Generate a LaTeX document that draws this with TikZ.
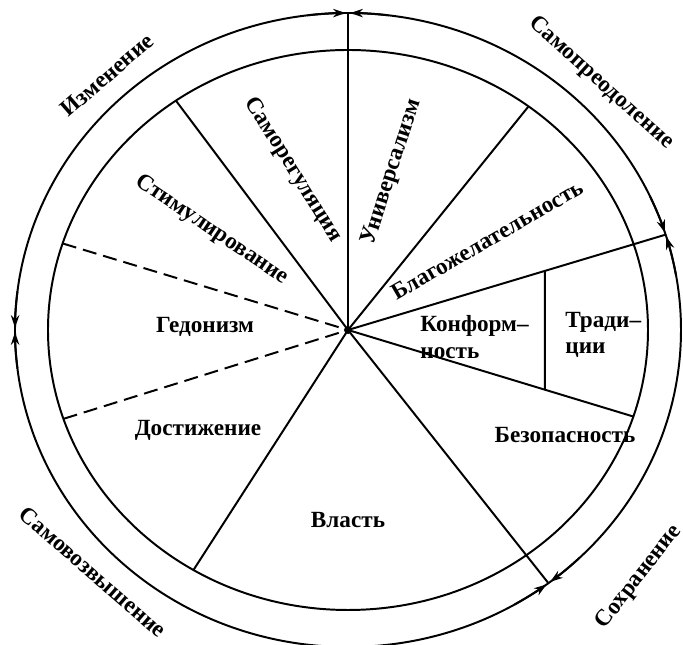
\documentclass[tikz,border=0pt]{standalone}
\usepackage{fontspec}
\setmainfont{Liberation Serif}
\usetikzlibrary{arrows.meta,calc}
\tikzset{
  lbl/.style={font=\fontsize{16.5}{19}\selectfont\bfseries,inner sep=1pt},
  twoline/.style={lbl,align=left,anchor=west},
  tipto/.style={-{Stealth[length=9pt,width=6pt]}},
  border/.style={dash pattern=on 10pt off 5pt}
}
\begin{document}
\begin{tikzpicture}[scale=0.025,line width=1.4pt]
\useasboundingbox (-348,-315) rectangle (335,330);
\coordinate (c) at (0,0);
\draw (c) ellipse [x radius=300,y radius=280];
\draw (c) ellipse [x radius=333,y radius=317];
% rays to the inner ring
\coordinate (r53) at (53:300 and 280);
\coordinate (r125) at (125:300 and 280);
\coordinate (r162) at (162:300 and 280);
\coordinate (r198) at (198.5:300 and 280);
\coordinate (r239) at (239:300 and 280);
\coordinate (r342) at (342:300 and 280);
% rays to the outer ring
\coordinate (o90) at (90:333 and 317);
\coordinate (o17) at (17.5:333 and 317);
\coordinate (o307) at (307:333 and 317);
\coordinate (o180) at (180:333 and 317);
\draw (c) -- (o90);
\draw (c) -- (o17);
\draw (c) -- (o307);
\draw (c) -- (r53);
\draw (c) -- (r125);
\draw (c) -- (r239);
\draw (c) -- (r342);
\draw[border] (r162) -- (c);
\draw[border] (r198) -- (c);
\coordinate (dt) at (intersection of c--o17 and 197,0--197,1);
\coordinate (db) at (intersection of c--r342 and 197,0--197,1);
\draw (dt) -- (db);
\fill (c) circle (4);
% arrows on the outer ring
\draw[tipto] (97:333 and 317) arc[start angle=97,end angle=90.4,x radius=333,y radius=317];
\draw[tipto] (83:333 and 317) arc[start angle=83,end angle=89.6,x radius=333,y radius=317];
\draw[tipto] (25:333 and 317) arc[start angle=25,end angle=17.9,x radius=333,y radius=317];
\draw[tipto] (10:333 and 317) arc[start angle=10,end angle=17.1,x radius=333,y radius=317];
\draw[tipto] (300:333 and 317) arc[start angle=300,end angle=306.6,x radius=333,y radius=317];
\draw[tipto] (314:333 and 317) arc[start angle=314,end angle=307.4,x radius=333,y radius=317];
\draw[tipto] (187:333 and 317) arc[start angle=187,end angle=180.4,x radius=333,y radius=317];
\draw[tipto] (173:333 and 317) arc[start angle=173,end angle=179.6,x radius=333,y radius=317];
% outer labels
\node[lbl,rotate=41] (izm) at (-241,255) {Изменение};
\node[lbl,rotate=-42] (sampr) at (253,247) {Самопреодоление};
\node[lbl,rotate=52] (sohr) at (291,-247) {Сохранение};
\node[lbl,rotate=-41] (samv) at (-255,-242) {Самовозвышение};
% sector labels
\node[lbl,rotate=-58] (samreg) at (-55,160) {Саморегуляция};
\node[lbl,rotate=72] (univ) at (44,158) {Универсализм};
\node[lbl,rotate=-34] (stim) at (-136,100) {Стимулирование};
\node[lbl] (gedon) at (-143,3) {Гедонизм};
\node[lbl] (dost) at (-150,-100) {Достижение};
\node[lbl] (vlast) at (0,-190) {Власть};
\node[lbl] (bezop) at (217,-105) {Безопасность};
\node[lbl,rotate=30] (blago) at (139,90) {Благожелательность};
\node[twoline] (konf) at (70,-7) {Конформ--\\ность};
\node[twoline] (trad) at (215,-5) {Тради--\\ции};
\end{tikzpicture}
\end{document}
